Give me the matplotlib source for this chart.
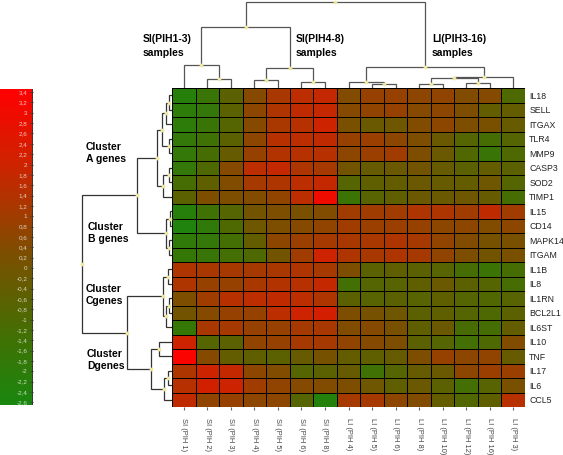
import numpy as np
import matplotlib
matplotlib.use("Agg")
import matplotlib.pyplot as plt
from matplotlib.colors import LinearSegmentedColormap, Normalize
from matplotlib.cm import ScalarMappable

plt.rcParams['font.family'] = ['Liberation Sans', 'DejaVu Sans']

genes = ['IL18', 'SELL', 'ITGAX', 'TLR4', 'MMP9', 'CASP3', 'SOD2', 'TIMP1',
         'IL15', 'CD14', 'MAPK14', 'ITGAM',
         'IL1B', 'IL8', 'IL1RN', 'BCL2L1', 'IL6ST',
         'IL10', 'TNF', 'IL17', 'IL6', 'CCL5']
samples = ['SI (PIH 1)', 'SI (PIH 2)', 'SI (PIH 3)', 'SI (PIH 4)', 'SI (PIH 5)',
           'SI (PIH 6)', 'SI (PIH 8)', 'LI (PIH 4)', 'LI (PIH 5)', 'LI (PIH 6)',
           'LI (PIH 8)', 'LI (PIH 10)', 'LI (PIH 12)', 'LI (PIH 16)', 'LI (PIH 3)']

expr = np.array([
    [-2.2, -1.6, -0.6, 0.5, 1.2, 1.6, 1.8, 0.4, 0.8, 0.8, 0.6, 0.7, 0.4, 0.5, -1.0],
    [-2.0, -1.8, -0.6, 0.6, 1.3, 1.7, 1.8, 0.5, 0.7, 0.8, 0.5, 0.6, 0.3, -0.4, -0.4],
    [-2.0, -1.6, -0.8, 0.5, 1.2, 1.5, 2.0, 0.2, -0.2, -0.1, 0.4, 0.6, 0.3, 0.2, -0.3],
    [-1.8, -1.4, -0.6, 0.6, 1.5, 1.6, 1.7, 0.8, 0.9, 0.6, 0.3, -0.2, -0.8, -1.2, -0.8],
    [-1.8, -1.2, -0.3, 0.8, 1.4, 1.5, 1.5, 0.6, 0.9, 1.0, 0.3, -0.2, -0.9, -1.6, -1.0],
    [-1.8, -1.0, 0.5, 1.6, 1.8, 1.3, 1.1, 0.0, -0.3, -0.2, 0.0, -0.3, -0.6, -0.4, -0.6],
    [-1.2, -0.5, 0.4, 1.1, 1.3, 1.6, 1.8, -0.8, -0.5, -0.4, -0.2, -0.3, -0.4, -0.1, -0.8],
    [-0.6, 0.3, 0.3, 0.4, 0.7, 1.6, 3.0, -1.5, -0.7, -0.5, -0.2, -0.2, -0.1, -0.3, -1.2],
    [-2.2, -1.4, -0.8, 0.0, 0.3, 0.2, 0.4, 1.0, 1.0, 1.0, 1.3, 1.3, 1.0, 1.7, 1.0],
    [-2.4, -1.9, -1.0, -0.1, 0.3, 0.5, 0.7, 1.0, 0.9, 0.9, 0.8, 0.6, 0.6, 0.4, 0.6],
    [-1.9, -1.8, -1.3, -0.4, 0.6, 0.9, 1.1, 1.2, 1.2, 1.3, 1.1, 0.7, 0.4, 0.1, 0.2],
    [-1.7, -1.6, -1.3, -1.0, 0.0, 1.0, 2.0, 1.3, 1.2, 1.3, 1.1, 0.7, 0.3, 0.0, 0.2],
    [1.3, 1.2, 1.1, 1.1, 1.2, 1.3, 1.1, 0.3, -0.6, -0.5, -0.6, -0.7, -1.2, -1.5, -1.2],
    [1.3, 0.8, 0.8, 1.2, 1.4, 1.5, 1.8, -1.3, -0.8, -0.7, -0.5, -0.2, -0.6, -0.8, -1.2],
    [0.3, 1.0, 1.5, 1.6, 1.7, 1.6, 1.3, -0.6, -0.7, -0.6, -0.7, -0.5, -0.8, -0.9, -0.7],
    [0.0, 0.5, 0.8, 0.8, 1.6, 2.0, 2.2, 0.3, 0.1, -0.1, -0.6, -0.5, -0.8, -1.0, -0.6],
    [-1.7, 1.2, 1.1, 0.8, 0.8, 1.1, 1.2, 0.4, 0.5, 0.2, -0.5, -0.2, -1.1, -1.2, -0.4],
    [2.0, -0.8, -0.6, 0.7, 0.8, 1.1, 1.1, 0.7, 0.5, 0.3, -0.6, -0.8, -1.3, -1.0, 0.4],
    [3.3, 0.5, -0.4, -0.5, -0.6, -0.3, 0.1, -0.4, -0.5, -0.3, 0.3, 0.8, 0.6, 0.7, -0.3],
    [1.3, 2.0, 1.8, 0.6, 0.4, -0.8, -0.6, -0.3, -1.4, -0.8, -0.3, -0.2, 0.6, 0.9, 0.9],
    [1.5, 2.1, 2.0, 1.0, 0.7, 0.5, 0.4, 0.3, -0.1, -0.5, -0.2, -0.6, -1.3, -0.7, 0.2],
    [1.7, 0.7, 0.8, 0.6, 0.6, -0.8, -2.3, 1.1, 1.1, 0.6, 0.4, -0.4, -0.9, -0.5, 1.5],
])

# merges: (child a, child b, height) -- new node ids follow the leaves
sample_merges = [
    (1, 2, 9), (0, 15, 23), (3, 4, 8), (5, 6, 6), (17, 18, 20), (16, 19, 61),
    (8, 9, 4), (7, 21, 6), (10, 11, 4), (12, 13, 5), (23, 24, 10), (25, 14, 11),
    (22, 26, 21), (20, 27, 86),
]
gene_merges = [
    (0, 1, 3), (22, 2, 6), (3, 4, 3), (23, 24, 10), (5, 6, 3), (26, 7, 9),
    (25, 27, 15), (8, 9, 2), (10, 11, 3), (29, 30, 6), (28, 31, 35),
    (12, 13, 4), (14, 15, 3), (34, 16, 6), (33, 35, 9),
    (17, 18, 13), (19, 20, 4), (38, 21, 8), (37, 39, 21), (36, 40, 45), (32, 41, 90),
]

cbar_ticks = [3.4, 3.2, 3.0, 2.8, 2.6, 2.4, 2.2, 2.0, 1.8, 1.6, 1.4, 1.2, 1.0, 0.8, 0.6,
              0.4, 0.2, 0.0, -0.2, -0.4, -0.6, -0.8, -1.0, -1.2, -1.4, -1.6, -1.8,
              -2.0, -2.2, -2.4, -2.6]
cbar_labels = ['3,4', '3,2', '3', '2,8', '2,6', '2,4', '2,2', '2', '1,8', '1,6', '1,4',
               '1,2', '1', '0,8', '0,6', '0,4', '0,2', '0', '-0,2', '-0,4', '-0,6',
               '-0,8', '-1', '-1,2', '-1,4', '-1,6', '-1,8', '-2', '-2,2', '-2,4', '-2,6']

vmin, vmax = -2.65, 3.46
anchors = [(-2.65, (25, 135, 15)), (-1.5, (60, 115, 5)), (-0.5, (95, 95, 0)),
           (0.3, (125, 78, 0)), (1.0, (160, 60, 0)), (2.0, (205, 35, 0)),
           (3.46, (255, 0, 0))]
cmap = LinearSegmentedColormap.from_list(
    'gr', [((v - vmin) / (vmax - vmin), tuple(c / 255 for c in rgb)) for v, rgb in anchors])
norm = Normalize(vmin, vmax)

W, H = 563, 455


def px_box(x0, y0, x1, y1):
    return [x0 / W, 1 - y1 / H, (x1 - x0) / W, (y1 - y0) / H]


def tree_lines(n_leaves, merges):
    pos = {i: i + 0.5 for i in range(n_leaves)}
    hgt = {i: 0.0 for i in range(n_leaves)}
    segs, nodes = [], []
    for k, (a, b, h) in enumerate(merges):
        nid = n_leaves + k
        pos[nid] = (pos[a] + pos[b]) / 2
        hgt[nid] = h
        segs.append(([pos[a], pos[a], pos[b], pos[b]], [hgt[a], h, h, hgt[b]]))
        nodes.append((pos[nid], h))
    return segs, nodes


fig = plt.figure(figsize=(W / 100, H / 100), dpi=100)

# heatmap
ax = fig.add_axes(px_box(172, 88, 525, 407))
ax.pcolormesh(expr, cmap=cmap, norm=norm, edgecolors='black', linewidth=0.7)
ax.set_xlim(0, len(samples))
ax.set_ylim(len(genes), 0)
ax.set_xticks(np.arange(len(samples)) + 0.5)
ax.set_xticklabels(samples, rotation=-90, fontsize=5.4, color='#444444')
ax.set_yticks(np.arange(len(genes)) + 0.5)
ax.set_yticklabels(genes, fontsize=6.3, color='#222222')
ax.yaxis.tick_right()
ax.tick_params(axis='x', length=2, pad=6, color='#666666')
ax.tick_params(axis='y', length=0, pad=3)
for s in ax.spines.values():
    s.set_visible(False)

# sample dendrogram
ax_top = fig.add_axes(px_box(172, 0, 525, 88))
segs, nodes = tree_lines(len(samples), sample_merges)
for xs, ys in segs:
    ax_top.plot(xs, ys, color='#555555', lw=0.9, solid_joinstyle='miter')
ax_top.scatter([n[0] for n in nodes], [n[1] for n in nodes], s=3, color='#eee8a0', zorder=3)
ax_top.set_xlim(0, len(samples))
ax_top.set_ylim(0, 88)
ax_top.axis('off')

# gene dendrogram
ax_left = fig.add_axes(px_box(60, 88, 172, 407))
segs, nodes = tree_lines(len(genes), gene_merges)
for xs, ys in segs:
    ax_left.plot(ys, xs, color='#333333', lw=0.9, solid_joinstyle='miter')
ax_left.scatter([n[1] for n in nodes], [n[0] for n in nodes], s=3, color='#eee8a0', zorder=3)
ax_left.set_xlim(112, 0)
ax_left.set_ylim(len(genes), 0)
ax_left.axis('off')

# colour scale
cax = fig.add_axes(px_box(0, 89, 33, 405))
cb = fig.colorbar(ScalarMappable(norm=norm, cmap=cmap), cax=cax, ticks=cbar_ticks)
cb.outline.set_visible(False)
cax.set_yticklabels(cbar_labels)
cax.tick_params(axis='y', direction='in', length=2, pad=-4, labelsize=4.5,
                labelcolor=(1, 1, 1, 0.75), color='#444444')
for lab in cax.get_yticklabels():
    lab.set_horizontalalignment('right')
cax.axvline(1.0, color='#333333', lw=1.2)

# annotations
bold = dict(fontsize=7.5, fontweight='bold', va='top', ha='left', linespacing=1.55)
fig.text(143 / W, 1 - 34 / H, 'SI(PIH1-3)\nsamples', **bold)
fig.text(296 / W, 1 - 34 / H, 'SI(PIH4-8)\nsamples', **bold)
fig.text(432 / W, 1 - 34 / H, 'LI(PIH3-16)\nsamples', **bold)
bold_l = dict(fontsize=7.5, fontweight='bold', va='top', ha='left', linespacing=1.3)
fig.text(86 / W, 1 - 142 / H, 'Cluster\nA genes', **bold_l)
fig.text(88 / W, 1 - 222 / H, 'Cluster\nB genes', **bold_l)
fig.text(86 / W, 1 - 284 / H, 'Cluster\nCgenes', **bold_l)
fig.text(87 / W, 1 - 349 / H, 'Cluster\nDgenes', **bold_l)

fig.savefig('out.png', dpi=100)
